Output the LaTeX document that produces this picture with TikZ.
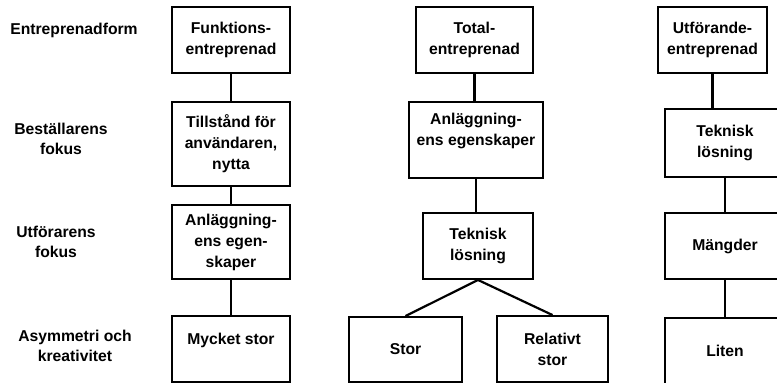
\documentclass[tikz,border=0pt]{standalone}
\usepackage{fontspec}
\setmainfont{Liberation Sans}
\usetikzlibrary{positioning}
\colorlet{rule}{black}
\tikzset{
  card/.style   ={draw=rule, line width=1.9pt, align=center, inner sep=2pt,
                  font=\bfseries\fontsize{15.7}{21}\selectfont},
  Lwide/.style  ={card, minimum width=118pt, minimum height=66pt},
  rowlab/.style ={align=center, font=\bfseries\fontsize{15.7}{20}\selectfont},
  link/.style   ={-, rule, line width=2.2pt},
}

\begin{document}
\begin{tikzpicture}[x=1pt, y=-1pt]
\clip (0,0) rectangle (777,383);

% row labels
\node[rowlab] (rowF) at (74, 30)  {Entreprenadform};
\node[rowlab] (rowB) at (61, 139) {Beställarens\\fokus};
\node[rowlab] (rowU) at (56, 242) {Utförarens\\fokus};
\node[rowlab] (rowA) at (75, 346) {Asymmetri och\\kreativitet};

% funktionsentreprenad
\node[Lwide] (F1) at (231, 40)  {Funktions-\\entreprenad};
\node[Lwide, minimum height=84pt] (B1) at (231, 144) {Tillstånd för\\användaren,\\nytta};
\node[Lwide, minimum height=74pt] (U1) at (231, 242) {Anläggning-\\ens egen-\\skaper};
\node[Lwide] (A1) at (231, 349) {Mycket stor\\ \mbox{}};
\draw[link] (F1) -- (B1);
\draw[link] (B1) -- (U1);
\draw[link] (U1) -- (A1);

% totalentreprenad
\node[card, minimum width=117pt, minimum height=66pt] (F2) at (474.5, 40) {Total-\\entreprenad};
\node[card, minimum width=134pt, minimum height=76pt] (B2) at (476, 140) {Anläggning-\\ens egenskaper\\ \mbox{}};
\node[card, minimum width=110pt, minimum height=66pt] (U2) at (478, 246) {Teknisk\\lösning};
\node[card, minimum width=113pt, minimum height=65pt] (S2) at (405.5, 349.5) {Stor};
\node[card, minimum width=111pt, minimum height=66pt] (R2) at (552.5, 349) {Relativt\\stor};
\draw[link] (F2.south) -- (F2.south |- B2.north);
\draw[link] (B2.south) -- (B2.south |- U2.north);
\draw[link] (U2.south) -- (S2.north);
\draw[link] (U2.south) -- (R2.north);

% utförandeentreprenad
\node[card, minimum width=109pt, minimum height=66pt] (F3) at (712.5, 40) {Utförande-\\entreprenad};
\node[card, minimum width=120pt, minimum height=68pt] (B3) at (725, 143) {Teknisk\\lösning};
\node[card, minimum width=120pt, minimum height=66pt] (U3) at (725, 246) {Mängder};
\node[card, minimum width=120pt, minimum height=66pt] (L3) at (725, 351) {Liten};
\draw[link] (F3.south) -- (F3.south |- B3.north);
\draw[link] (B3) -- (U3);
\draw[link] (U3) -- (L3);

\end{tikzpicture}
\end{document}
